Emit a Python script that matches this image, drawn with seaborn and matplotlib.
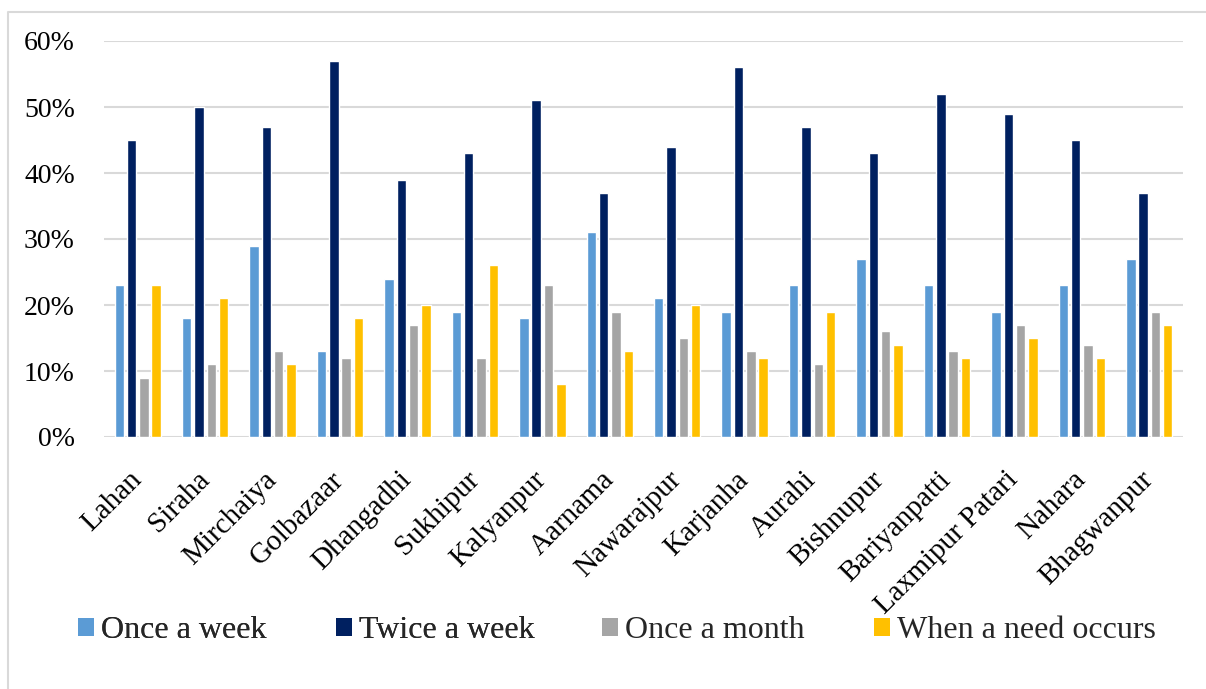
import numpy as np
import pandas as pd
import matplotlib
matplotlib.use("Agg")
import matplotlib.pyplot as plt
from matplotlib.lines import Line2D
from matplotlib.patches import Patch
from matplotlib.ticker import PercentFormatter
import seaborn as sns

# Survey data: frequency of visits per location (percent of respondents)
locations = ["Lahan", "Siraha", "Mirchaiya", "Golbazaar", "Dhangadhi", "Sukhipur",
             "Kalyanpur", "Aarnama", "Nawarajpur", "Karjanha", "Aurahi", "Bishnupur",
             "Bariyanpatti", "Laxmipur Patari", "Nahara", "Bhagwanpur"]
series_names = ["Once a week", "Twice a week", "Once a month", "When a need occurs"]
once_a_week = [23, 18, 29, 13, 24, 19, 18, 31, 21, 19, 23, 27, 23, 19, 23, 27]
twice_a_week = [45, 50, 47, 57, 39, 43, 51, 37, 44, 56, 47, 43, 52, 49, 45, 37]
once_a_month = [9, 11, 13, 12, 17, 12, 23, 19, 15, 13, 11, 16, 13, 17, 14, 19]
when_needed = [23, 21, 11, 18, 20, 26, 8, 13, 20, 12, 19, 14, 12, 15, 12, 17]
colors = ["#5B9BD5", "#002060", "#A5A5A5", "#FFC000"]

series_values = [once_a_week, twice_a_week, once_a_month, when_needed]
df = pd.DataFrame({
    "location": np.repeat([locations], len(series_names), axis=0).ravel(),
    "frequency": np.repeat(series_names, len(locations)),
    "share": np.concatenate(series_values) / 100.0,
})

sns.set_theme(style="white")
plt.rcParams["font.family"] = ["Liberation Serif", "DejaVu Serif"]

W, H = 1206, 689
fig = plt.figure(figsize=(W / 100, H / 100), dpi=100)
ax = fig.add_axes([104 / W, 1 - 437 / H, (1183 - 104) / W, (437 - 41) / H])

sns.barplot(data=df, x="location", y="share", hue="frequency",
            hue_order=series_names, order=locations, palette=colors,
            width=0.73, gap=0.23, saturation=1, ax=ax, legend=False)

ax.set_ylim(0, 0.6)
ax.set_xlim(-0.5, len(locations) - 0.5)
ax.set_yticks(np.arange(0, 0.61, 0.1))
ax.yaxis.set_major_formatter(PercentFormatter(1.0, decimals=0))
ax.grid(axis="y", color="#D9D9D9", linewidth=1.5)
ax.set_axisbelow(True)
for side in ["top", "right", "left", "bottom"]:
    ax.spines[side].set_visible(False)
ax.set_xlabel("")
ax.set_ylabel("")
ax.tick_params(axis="y", length=0, pad=21, labelsize=20, labelcolor="black")
ax.tick_params(axis="x", length=0, pad=28, labelsize=21, labelcolor="black")
for lbl in ax.get_xticklabels():
    lbl.set_rotation(45)
    lbl.set_ha("right")
    lbl.set_va("center")
    lbl.set_rotation_mode("anchor")

# Legend below the plot, in two groups of entries
handles = [Patch(facecolor=c, edgecolor="none") for c in colors]
legend_kw = dict(loc="center left", ncol=2, frameon=False, fontsize=23,
                 handlelength=0.5, handleheight=0.5, handletextpad=0.22,
                 columnspacing=2.18, borderpad=0, borderaxespad=0)
leg1 = fig.legend(handles[:2], series_names[:2],
                  bbox_to_anchor=(78 / W, 1 - 631 / H), **legend_kw)
fig.legend(handles[2:], series_names[2:],
           bbox_to_anchor=(602 / W, 1 - 631 / H), **legend_kw)
fig.add_artist(leg1)

# Chart area frame (left and top edges)
fig.add_artist(Line2D([8 / W, 8 / W, 1.0], [0.0, 1 - 12 / H, 1 - 12 / H],
                      transform=fig.transFigure, color="#D9D9D9", linewidth=1.5))

fig.savefig("out.png", dpi=100)
